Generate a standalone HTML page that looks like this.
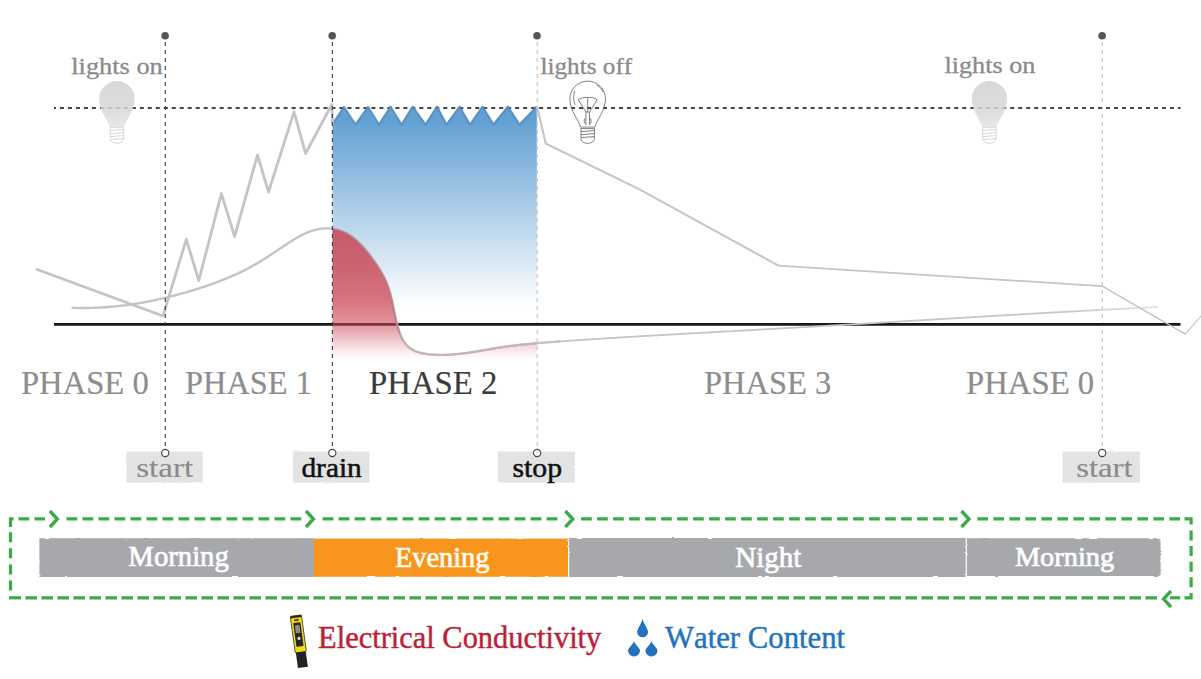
<!DOCTYPE html>
<html><head><meta charset="utf-8"><style>
html,body{margin:0;padding:0;background:#fff;}
svg{display:block;}
text{font-kerning:none;}
</style></head><body>
<svg width="1201" height="679" viewBox="0 0 1201 679">
<rect width="1201" height="679" fill="#fff"/>
<defs>
<linearGradient id="gBlue" gradientUnits="userSpaceOnUse" x1="0" y1="120" x2="0" y2="306">
 <stop offset="0" stop-color="#5f9ed2" stop-opacity="0.98"/>
 <stop offset="1" stop-color="#5f9ed2" stop-opacity="0"/>
</linearGradient>
<linearGradient id="gRed" gradientUnits="userSpaceOnUse" x1="0" y1="228" x2="0" y2="360">
 <stop offset="0" stop-color="#c85868" stop-opacity="1"/>
 <stop offset="0.129" stop-color="#c6606e" stop-opacity="1"/>
 <stop offset="0.545" stop-color="#cc4857" stop-opacity="0.76"/>
 <stop offset="0.636" stop-color="#cd4f5c" stop-opacity="0.70"/>
 <stop offset="0.727" stop-color="#cd4859" stop-opacity="0.584"/>
 <stop offset="0.818" stop-color="#cd4859" stop-opacity="0.37"/>
 <stop offset="0.886" stop-color="#cd4859" stop-opacity="0.22"/>
 <stop offset="0.924" stop-color="#cd4859" stop-opacity="0.137"/>
 <stop offset="0.970" stop-color="#cd4859" stop-opacity="0.04"/>
 <stop offset="1" stop-color="#cd4859" stop-opacity="0"/>
</linearGradient>
<linearGradient id="gBulb" x1="0" y1="0" x2="0" y2="1">
 <stop offset="0" stop-color="#d2d2d2"/>
 <stop offset="0.6" stop-color="#d6d6d6"/>
 <stop offset="1" stop-color="#e4e4e4"/>
</linearGradient>
<filter id="rough" x="-2%" y="-10%" width="104%" height="120%">
 <feTurbulence type="fractalNoise" baseFrequency="0.06 0.5" numOctaves="2" seed="3" result="n"/>
 <feDisplacementMap in="SourceGraphic" in2="n" scale="2.2" xChannelSelector="R" yChannelSelector="G"/>
</filter>
</defs>
<line x1="54" y1="108" x2="1180.5" y2="108" stroke="#444" stroke-width="2" stroke-dasharray="3.9925 3.9925" stroke-dashoffset="1.97"/>
<polygon points="332.5,124 344,106.8 355.5,124.5 368,106.8 379,124.5 390.5,106.5 401.5,124.5 412.7,106.5 425.5,124.5 437,106.5 446.5,124.5 459.5,106.5 470,124.5 482.5,106.5 493.5,124.5 508,106.5 519.5,124.5 536.8,106.5 537,326 332.5,326" fill="url(#gBlue)"/>
<polyline points="332.5,124 344,106.8 355.5,124.5 368,106.8 379,124.5 390.5,106.5 401.5,124.5 412.7,106.5 425.5,124.5 437,106.5 446.5,124.5 459.5,106.5 470,124.5 482.5,106.5 493.5,124.5 508,106.5 519.5,124.5 536.8,106.5" fill="none" stroke="#4f87bd" stroke-width="2" stroke-linejoin="round" opacity="0.85"/>
<line x1="537.2" y1="42" x2="537.2" y2="449" stroke="#c4c4c4" stroke-width="1.1" stroke-dasharray="4 4"/>
<line x1="1102.3" y1="42" x2="1102.3" y2="449" stroke="#c4c4c4" stroke-width="1.1" stroke-dasharray="4 4"/>
<line x1="54" y1="324.3" x2="1180.5" y2="324.3" stroke="#181818" stroke-width="2.8"/>
<polyline points="72.60,307.80 73.58,307.84 74.56,307.87 75.55,307.90 76.53,307.92 77.51,307.94 78.50,307.96 79.48,307.97 80.46,307.99 81.45,307.99 82.43,308.00 83.41,308.00 84.39,308.00 85.38,307.99 86.36,307.99 87.34,307.97 88.32,307.96 89.30,307.94 90.28,307.92 91.27,307.90 92.25,307.87 93.23,307.84 94.21,307.81 95.19,307.77 96.17,307.74 97.15,307.69 98.13,307.65 99.11,307.60 100.09,307.55 101.07,307.49 102.05,307.44 103.03,307.38 104.01,307.31 104.98,307.25 105.96,307.18 106.94,307.11 107.92,307.03 108.90,306.96 109.87,306.88 110.85,306.79 111.83,306.71 112.80,306.62 113.78,306.52 114.76,306.43 115.73,306.33 116.71,306.23 117.68,306.13 118.66,306.02 119.63,305.91 120.61,305.80 121.58,305.69 122.55,305.57 123.53,305.45 124.50,305.33 125.47,305.20 126.45,305.07 127.42,304.94 128.39,304.81 129.36,304.67 130.33,304.53 131.30,304.39 132.27,304.25 133.24,304.10 134.21,303.95 135.18,303.80 136.15,303.65 137.12,303.49 138.09,303.33 139.06,303.17 140.03,303.00 140.99,302.84 141.96,302.67 142.93,302.49 143.89,302.32 144.86,302.14 145.82,301.96 146.79,301.78 147.75,301.59 148.72,301.41 149.68,301.22 150.65,301.02 151.61,300.83 152.57,300.63 153.53,300.43 154.50,300.23 155.46,300.03 156.42,299.82 157.38,299.61 158.34,299.40 159.30,299.19 160.26,298.97 161.22,298.75 162.17,298.53 163.13,298.31 164.09,298.09 165.05,297.86 166.00,297.63 166.96,297.40 167.91,297.16 168.87,296.93 169.82,296.69 170.78,296.45 171.73,296.21 172.69,295.96 173.64,295.72 174.59,295.47 175.54,295.22 176.49,294.96 177.44,294.71 178.39,294.45 179.34,294.19 180.29,293.93 181.24,293.66 182.19,293.40 183.14,293.13 184.08,292.86 185.03,292.59 185.97,292.31 186.92,292.04 187.86,291.76 188.81,291.48 189.75,291.20 190.69,290.91 191.64,290.63 192.58,290.34 193.52,290.05 194.46,289.76 195.40,289.47 196.34,289.17 197.28,288.87 198.22,288.57 199.16,288.27 200.09,287.97 201.03,287.67 201.96,287.36 202.90,287.05 203.83,286.74 204.77,286.43 205.70,286.11 206.63,285.80 207.56,285.48 208.50,285.16 209.42,284.84 210.35,284.51 211.28,284.18 212.21,283.85 213.13,283.52 214.06,283.19 214.98,282.85 215.91,282.51 216.83,282.17 217.75,281.83 218.67,281.48 219.58,281.13 220.50,280.78 221.42,280.42 222.33,280.07 223.24,279.71 224.16,279.34 225.07,278.98 225.97,278.61 226.88,278.24 227.79,277.86 228.69,277.49 229.59,277.11 230.50,276.72 231.40,276.34 232.29,275.95 233.19,275.55 234.08,275.16 234.98,274.76 235.87,274.36 236.76,273.95 237.65,273.54 238.53,273.13 239.42,272.71 240.30,272.30 241.18,271.87 242.06,271.45 242.93,271.02 243.81,270.58 244.68,270.15 245.55,269.70 246.42,269.26 247.28,268.81 248.15,268.36 249.01,267.90 249.87,267.44 250.73,266.98 251.58,266.51 252.43,266.04 253.28,265.57 254.13,265.09 254.98,264.60 255.82,264.11 256.66,263.62 257.50,263.13 258.34,262.63 259.17,262.12 260.00,261.62 260.83,261.11 261.66,260.59 262.49,260.08 263.32,259.56 264.14,259.04 264.97,258.51 265.79,257.99 266.61,257.46 267.43,256.93 268.25,256.39 269.07,255.86 269.89,255.32 270.71,254.78 271.53,254.24 272.35,253.70 273.17,253.16 273.99,252.61 274.81,252.07 275.63,251.52 276.44,250.98 277.26,250.43 278.09,249.88 278.91,249.33 279.73,248.79 280.55,248.24 281.38,247.69 282.20,247.14 283.03,246.59 283.86,246.05 284.69,245.50 285.52,244.96 286.35,244.41 287.18,243.87 288.02,243.33 288.86,242.78 289.70,242.25 290.54,241.71 291.39,241.17 292.24,240.64 293.09,240.11 293.94,239.59 294.80,239.07 295.65,238.55 296.52,238.05 297.38,237.54 298.25,237.05 299.12,236.56 299.99,236.08 300.87,235.61 301.75,235.15 302.64,234.70 303.52,234.27 304.42,233.84 305.31,233.42 306.21,233.02 307.12,232.63 308.02,232.25 308.93,231.89 309.85,231.54 310.77,231.21 311.70,230.89 312.63,230.59 313.56,230.31 314.50,230.04 315.44,229.79 316.39,229.57 317.34,229.36 318.30,229.17 319.26,229.00 320.22,228.84 321.19,228.71 322.15,228.60 323.12,228.51 324.09,228.44 325.06,228.39 326.03,228.35 327.00,228.34 327.97,228.35 328.93,228.38 329.90,228.43 330.86,228.51 331.82,228.60 332.77,228.71 333.72,228.85 334.67,229.01 335.61,229.19 336.55,229.39 337.48,229.61 338.40,229.86 339.32,230.13 340.22,230.42 341.12,230.73 342.02,231.06 342.90,231.42 343.77,231.80 344.64,232.20 345.50,232.63 346.34,233.07 347.18,233.53 348.02,234.01 348.84,234.51 349.66,235.03 350.46,235.57 351.26,236.12 352.05,236.69 352.84,237.27 353.61,237.88 354.38,238.49 355.14,239.12 355.90,239.76 356.64,240.42 357.38,241.09 358.12,241.77 358.84,242.46 359.56,243.16 360.27,243.88 360.97,244.60 361.67,245.33 362.36,246.07 363.04,246.82 363.72,247.58 364.39,248.34 365.06,249.12 365.72,249.89 366.37,250.67 367.01,251.46 367.65,252.25 368.29,253.04 368.92,253.84 369.54,254.64 370.16,255.44 370.77,256.25 371.37,257.05 371.97,257.86 372.57,258.66 373.16,259.47 373.74,260.28 374.31,261.09 374.89,261.90 375.45,262.71 376.01,263.52 376.56,264.34 377.10,265.15 377.64,265.97 378.17,266.79 378.69,267.62 379.21,268.44 379.72,269.27 380.22,270.10 380.72,270.93 381.20,271.77 381.68,272.61 382.15,273.45 382.61,274.30 383.07,275.15 383.51,276.00 383.95,276.86 384.38,277.72 384.79,278.58 385.21,279.45 385.61,280.32 386.00,281.20 386.38,282.08 386.75,282.97 387.12,283.86 387.47,284.75 387.82,285.65 388.15,286.56 388.47,287.47 388.79,288.39 389.09,289.31 389.38,290.24 389.67,291.17 389.94,292.11 390.21,293.05 390.46,294.00 390.71,294.95 390.96,295.90 391.19,296.86 391.42,297.82 391.65,298.79 391.87,299.76 392.08,300.73 392.29,301.71 392.50,302.68 392.70,303.66 392.90,304.64 393.10,305.63 393.30,306.61 393.49,307.60 393.69,308.58 393.88,309.57 394.08,310.56 394.27,311.55 394.47,312.54 394.67,313.53 394.87,314.52 395.07,315.50 395.28,316.49 395.49,317.48 395.70,318.46 395.92,319.45 396.14,320.43 396.37,321.41 396.61,322.39 396.85,323.36 397.10,324.33 397.36,325.30 397.62,326.27 397.89,327.24 398.18,328.20 398.47,329.15 398.77,330.10 399.08,331.05 399.41,331.99 399.75,332.92 400.09,333.84 400.46,334.75 400.84,335.65 401.23,336.54 401.64,337.42 402.06,338.28 402.50,339.12 402.96,339.95 403.44,340.76 403.93,341.55 404.45,342.32 404.99,343.06 405.54,343.79 406.12,344.49 406.72,345.17 407.35,345.82 408.00,346.45 408.67,347.04 409.37,347.61 410.09,348.15 410.83,348.67 411.59,349.15 412.38,349.62 413.18,350.05 414.00,350.47 414.85,350.85 415.71,351.22 416.58,351.57 417.47,351.89 418.38,352.19 419.30,352.47 420.23,352.73 421.17,352.98 422.12,353.20 423.09,353.41 424.06,353.60 425.05,353.78 426.04,353.94 427.03,354.08 428.03,354.21 429.04,354.33 430.05,354.43 431.07,354.53 432.08,354.61 433.10,354.68 434.12,354.74 435.13,354.79 436.15,354.83 437.17,354.87 438.18,354.89 439.19,354.91 440.20,354.92 441.20,354.92 442.21,354.92 443.21,354.91 444.22,354.89 445.22,354.86 446.22,354.83 447.21,354.79 448.21,354.75 449.20,354.70 450.20,354.64 451.19,354.57 452.18,354.50 453.17,354.43 454.16,354.35 455.14,354.26 456.13,354.17 457.11,354.08 458.10,353.98 459.08,353.87 460.06,353.76 461.04,353.65 462.02,353.53 463.00,353.41 463.97,353.28 464.95,353.15 465.92,353.02 466.90,352.89 467.87,352.75 468.85,352.61 469.82,352.46 470.79,352.31 471.76,352.16 472.73,352.01 473.70,351.86 474.67,351.70 475.64,351.54 476.61,351.38 477.57,351.22 478.54,351.06 479.51,350.89 480.48,350.73 481.44,350.56 482.41,350.39 483.37,350.23 484.34,350.06 485.31,349.89 486.27,349.72 487.24,349.56 488.20,349.39 489.17,349.22 490.13,349.06 491.10,348.89 492.06,348.73 493.03,348.56 493.99,348.40 494.96,348.24 495.93,348.08 496.89,347.92 497.86,347.77 498.83,347.61 499.79,347.46 500.76,347.31 501.73,347.17 502.70,347.02 503.67,346.88 504.64,346.74 505.61,346.61 506.58,346.47 507.55,346.34 508.52,346.21 509.49,346.08 510.46,345.95 511.43,345.83 512.41,345.71 513.38,345.59 514.35,345.47 515.32,345.35 516.30,345.24 517.27,345.12 518.25,345.01 519.22,344.90 520.19,344.80 521.17,344.69 522.14,344.59 523.12,344.48 524.10,344.38 525.07,344.28 526.05,344.19 527.02,344.09 528.00,343.99 528.98,343.90 529.95,343.81 530.93,343.72 531.91,343.63 532.89,343.54 533.86,343.45 534.84,343.36 535.82,343.28 536.80,343.20 537.78,343.11 538.76,343.03 539.73,342.95 540.71,342.87 541.69,342.79 542.67,342.71 543.65,342.63 544.63,342.56 545.61,342.48 546.59,342.41 547.57,342.33 548.55,342.26 549.53,342.19 550.51,342.11 551.49,342.04 552.47,341.97 553.45,341.90 554.43,341.83 555.41,341.76 556.39,341.69 557.37,341.62 558.35,341.55 559.33,341.48" fill="none" stroke="#c4c4c4" stroke-width="2.4" stroke-linecap="round" stroke-linejoin="round"/>
<linearGradient id="gEcR" gradientUnits="userSpaceOnUse" x1="555" y1="0" x2="1158" y2="0"><stop offset="0" stop-color="#c4c4c4"/><stop offset="0.85" stop-color="#c8c8c8"/><stop offset="1" stop-color="#e4e4e4"/></linearGradient>
<polyline points="555.41,341.76 556.39,341.69 557.37,341.62 558.35,341.55 559.33,341.48 560.31,341.41 561.29,341.34 562.27,341.27 563.25,341.20 564.23,341.13 565.21,341.07 566.19,341.00 567.17,340.93 568.15,340.86 569.13,340.80 570.11,340.73 571.10,340.66 572.08,340.59 573.06,340.53 574.04,340.46 575.02,340.39 576.00,340.33 576.98,340.26 577.96,340.20 578.94,340.13 579.92,340.06 580.90,340.00 581.88,339.93 582.86,339.87 583.84,339.80 584.82,339.74 585.80,339.67 586.78,339.61 587.76,339.54 588.74,339.48 589.72,339.42 590.70,339.35 591.68,339.29 592.66,339.22 593.64,339.16 594.63,339.10 595.61,339.03 596.59,338.97 597.57,338.91 598.55,338.85 599.53,338.78 600.51,338.72 601.49,338.66 602.47,338.60 603.45,338.53 604.43,338.47 605.41,338.41 606.39,338.35 607.37,338.29 608.35,338.22 609.33,338.16 610.31,338.10 611.29,338.04 612.27,337.98 613.25,337.92 614.23,337.86 615.21,337.80 616.20,337.74 617.18,337.68 618.16,337.61 619.14,337.55 620.12,337.49 621.10,337.43 622.08,337.37 623.06,337.31 624.04,337.26 625.02,337.20 626.00,337.14 626.98,337.08 627.96,337.02 628.94,336.96 629.92,336.90 630.90,336.84 631.88,336.78 632.86,336.72 633.84,336.66 634.83,336.61 635.81,336.55 636.79,336.49 637.77,336.43 638.75,336.37 639.73,336.32 640.71,336.26 641.69,336.20 642.67,336.14 643.65,336.08 644.63,336.03 645.61,335.97 646.59,335.91 647.57,335.85 648.55,335.80 649.53,335.74 650.51,335.68 651.49,335.63 652.48,335.57 653.46,335.51 654.44,335.46 655.42,335.40 656.40,335.34 657.38,335.29 658.36,335.23 659.34,335.17 660.32,335.12 661.30,335.06 662.28,335.00 663.26,334.95 664.24,334.89 665.22,334.84 666.20,334.78 667.18,334.73 668.16,334.67 669.14,334.61 670.13,334.56 671.11,334.50 672.09,334.45 673.07,334.39 674.05,334.34 675.03,334.28 676.01,334.23 676.99,334.17 677.97,334.12 678.95,334.06 679.93,334.01 680.91,333.95 681.89,333.90 682.87,333.84 683.85,333.79 684.83,333.73 685.81,333.68 686.80,333.62 687.78,333.57 688.76,333.51 689.74,333.46 690.72,333.40 691.70,333.35 692.68,333.30 693.66,333.24 694.64,333.19 695.62,333.13 696.60,333.08 697.58,333.02 698.56,332.97 699.54,332.92 700.52,332.86 701.50,332.81 702.49,332.75 703.47,332.70 704.45,332.65 705.43,332.59 706.41,332.54 707.39,332.48 708.37,332.43 709.35,332.38 710.33,332.32 711.31,332.27 712.29,332.21 713.27,332.16 714.25,332.11 715.23,332.05 716.21,332.00 717.19,331.95 718.18,331.89 719.16,331.84 720.14,331.78 721.12,331.73 722.10,331.68 723.08,331.62 724.06,331.57 725.04,331.52 726.02,331.46 727.00,331.41 727.98,331.36 728.96,331.30 729.94,331.25 730.92,331.19 731.90,331.14 732.88,331.09 733.86,331.03 734.85,330.98 735.83,330.93 736.81,330.87 737.79,330.82 738.77,330.77 739.75,330.71 740.73,330.66 741.71,330.60 742.69,330.55 743.67,330.50 744.65,330.44 745.63,330.39 746.61,330.34 747.59,330.28 748.57,330.23 749.55,330.17 750.54,330.12 751.52,330.07 752.50,330.01 753.48,329.96 754.46,329.90 755.44,329.85 756.42,329.80 757.40,329.74 758.38,329.69 759.36,329.63 760.34,329.58 761.32,329.53 762.30,329.47 763.28,329.42 764.26,329.36 765.24,329.31 766.23,329.26 767.21,329.20 768.19,329.15 769.17,329.09 770.15,329.04 771.13,328.98 772.11,328.93 773.09,328.87 774.07,328.82 775.05,328.77 776.03,328.71 777.01,328.66 777.99,328.60 778.97,328.55 779.95,328.49 780.93,328.44 781.91,328.38 782.90,328.33 783.88,328.27 784.86,328.22 785.84,328.16 786.82,328.11 787.80,328.05 788.78,327.99 789.76,327.94 790.74,327.88 791.72,327.83 792.70,327.77 793.68,327.72 794.66,327.66 795.64,327.61 796.62,327.55 797.60,327.49 798.58,327.44 799.56,327.38 800.55,327.33 801.53,327.27 802.51,327.21 803.49,327.16 804.47,327.10 805.45,327.05 806.43,326.99 807.41,326.93 808.39,326.88 809.37,326.82 810.35,326.77 811.33,326.71 812.31,326.65 813.29,326.60 814.27,326.54 815.25,326.48 816.23,326.43 817.21,326.37 818.20,326.31 819.18,326.26 820.16,326.20 821.14,326.14 822.12,326.09 823.10,326.03 824.08,325.97 825.06,325.92 826.04,325.86 827.02,325.80 828.00,325.75 828.98,325.69 829.96,325.63 830.94,325.57 831.92,325.52 832.90,325.46 833.88,325.40 834.86,325.35 835.85,325.29 836.83,325.23 837.81,325.17 838.79,325.12 839.77,325.06 840.75,325.00 841.73,324.94 842.71,324.89 843.69,324.83 844.67,324.77 845.65,324.71 846.63,324.66 847.61,324.60 848.59,324.54 849.57,324.48 850.55,324.43 851.53,324.37 852.51,324.31 853.49,324.25 854.48,324.19 855.46,324.14 856.44,324.08 857.42,324.02 858.40,323.96 859.38,323.91 860.36,323.85 861.34,323.79 862.32,323.73 863.30,323.67 864.28,323.62 865.26,323.56 866.24,323.50 867.22,323.44 868.20,323.38 869.18,323.33 870.16,323.27 871.14,323.21 872.12,323.15 873.11,323.09 874.09,323.04 875.07,322.98 876.05,322.92 877.03,322.86 878.01,322.80 878.99,322.74 879.97,322.69 880.95,322.63 881.93,322.57 882.91,322.51 883.89,322.45 884.87,322.39 885.85,322.34 886.83,322.28 887.81,322.22 888.79,322.16 889.77,322.10 890.75,322.04 891.74,321.99 892.72,321.93 893.70,321.87 894.68,321.81 895.66,321.75 896.64,321.69 897.62,321.64 898.60,321.58 899.58,321.52 900.56,321.46 901.54,321.40 902.52,321.34 903.50,321.28 904.48,321.23 905.46,321.17 906.44,321.11 907.42,321.05 908.40,320.99 909.38,320.93 910.36,320.87 911.35,320.82 912.33,320.76 913.31,320.70 914.29,320.64 915.27,320.58 916.25,320.52 917.23,320.46 918.21,320.41 919.19,320.35 920.17,320.29 921.15,320.23 922.13,320.17 923.11,320.11 924.09,320.05 925.07,320.00 926.05,319.94 927.03,319.88 928.01,319.82 928.99,319.76 929.98,319.70 930.96,319.65 931.94,319.59 932.92,319.53 933.90,319.47 934.88,319.41 935.86,319.35 936.84,319.29 937.82,319.24 938.80,319.18 939.78,319.12 940.76,319.06 941.74,319.00 942.72,318.94 943.70,318.89 944.68,318.83 945.66,318.77 946.64,318.71 947.63,318.65 948.61,318.59 949.59,318.53 950.57,318.48 951.55,318.42 952.53,318.36 953.51,318.30 954.49,318.24 955.47,318.19 956.45,318.13 957.43,318.07 958.41,318.01 959.39,317.95 960.37,317.89 961.35,317.84 962.33,317.78 963.31,317.72 964.29,317.66 965.27,317.60 966.26,317.55 967.24,317.49 968.22,317.43 969.20,317.37 970.18,317.31 971.16,317.25 972.14,317.20 973.12,317.14 974.10,317.08 975.08,317.02 976.06,316.97 977.04,316.91 978.02,316.85 979.00,316.79 979.98,316.73 980.96,316.68 981.94,316.62 982.92,316.56 983.91,316.50 984.89,316.44 985.87,316.39 986.85,316.33 987.83,316.27 988.81,316.21 989.79,316.16 990.77,316.10 991.75,316.04 992.73,315.98 993.71,315.93 994.69,315.87 995.67,315.81 996.65,315.75 997.63,315.70 998.61,315.64 999.59,315.58 1000.58,315.53 1001.56,315.47 1002.54,315.41 1003.52,315.35 1004.50,315.30 1005.48,315.24 1006.46,315.18 1007.44,315.13 1008.42,315.07 1009.40,315.01 1010.38,314.95 1011.36,314.90 1012.34,314.84 1013.32,314.78 1014.30,314.73 1015.28,314.67 1016.26,314.61 1017.25,314.56 1018.23,314.50 1019.21,314.44 1020.19,314.39 1021.17,314.33 1022.15,314.27 1023.13,314.22 1024.11,314.16 1025.09,314.11 1026.07,314.05 1027.05,313.99 1028.03,313.94 1029.01,313.88 1029.99,313.82 1030.97,313.77 1031.95,313.71 1032.94,313.66 1033.92,313.60 1034.90,313.54 1035.88,313.49 1036.86,313.43 1037.84,313.38 1038.82,313.32 1039.80,313.26 1040.78,313.21 1041.76,313.15 1042.74,313.10 1043.72,313.04 1044.70,312.99 1045.68,312.93 1046.66,312.88 1047.64,312.82 1048.63,312.77 1049.61,312.71 1050.59,312.65 1051.57,312.60 1052.55,312.54 1053.53,312.49 1054.51,312.43 1055.49,312.38 1056.47,312.32 1057.45,312.27 1058.43,312.21 1059.41,312.16 1060.39,312.11 1061.37,312.05 1062.35,312.00 1063.34,311.94 1064.32,311.89 1065.30,311.83 1066.28,311.78 1067.26,311.72 1068.24,311.67 1069.22,311.62 1070.20,311.56 1071.18,311.51 1072.16,311.45 1073.14,311.40 1074.12,311.35 1075.10,311.29 1076.08,311.24 1077.06,311.18 1078.05,311.13 1079.03,311.08 1080.01,311.02 1080.99,310.97 1081.97,310.92 1082.95,310.86 1083.93,310.81 1084.91,310.76 1085.89,310.70 1086.87,310.65 1087.85,310.60 1088.83,310.54 1089.81,310.49 1090.79,310.44 1091.78,310.39 1092.76,310.33 1093.74,310.28 1094.72,310.23 1095.70,310.17 1096.68,310.12 1097.66,310.07 1098.64,310.02 1099.62,309.97 1100.60,309.91 1101.58,309.86 1102.56,309.81 1103.54,309.76 1104.53,309.70 1105.51,309.65 1106.49,309.60 1107.47,309.55 1108.45,309.50 1109.43,309.45 1110.41,309.39 1111.39,309.34 1112.37,309.29 1113.35,309.24 1114.33,309.19 1115.31,309.14 1116.29,309.09 1117.28,309.04 1118.26,308.98 1119.24,308.93 1120.22,308.88 1121.20,308.83 1122.18,308.78 1123.16,308.73 1124.14,308.68 1125.12,308.63 1126.10,308.58 1127.08,308.53 1128.06,308.48 1129.05,308.43 1130.03,308.38 1131.01,308.33 1131.99,308.28 1132.97,308.23 1133.95,308.18 1134.93,308.13 1135.91,308.08 1136.89,308.03 1137.87,307.98 1138.85,307.93 1139.83,307.88 1140.81,307.84 1141.80,307.79 1142.78,307.74 1143.76,307.69 1144.74,307.64 1145.72,307.59 1146.70,307.54 1147.68,307.49 1148.66,307.45 1149.64,307.40 1150.62,307.35 1151.60,307.30 1152.59,307.25 1153.57,307.20 1154.55,307.16 1155.53,307.11 1156.51,307.06 1157.49,307.01" fill="none" stroke="url(#gEcR)" stroke-width="1.8" stroke-linecap="round" stroke-linejoin="round"/>
<polygon points="332.4,228.71 332.77,228.71 333.72,228.85 334.67,229.01 335.61,229.19 336.55,229.39 337.48,229.61 338.40,229.86 339.32,230.13 340.22,230.42 341.12,230.73 342.02,231.06 342.90,231.42 343.77,231.80 344.64,232.20 345.50,232.63 346.34,233.07 347.18,233.53 348.02,234.01 348.84,234.51 349.66,235.03 350.46,235.57 351.26,236.12 352.05,236.69 352.84,237.27 353.61,237.88 354.38,238.49 355.14,239.12 355.90,239.76 356.64,240.42 357.38,241.09 358.12,241.77 358.84,242.46 359.56,243.16 360.27,243.88 360.97,244.60 361.67,245.33 362.36,246.07 363.04,246.82 363.72,247.58 364.39,248.34 365.06,249.12 365.72,249.89 366.37,250.67 367.01,251.46 367.65,252.25 368.29,253.04 368.92,253.84 369.54,254.64 370.16,255.44 370.77,256.25 371.37,257.05 371.97,257.86 372.57,258.66 373.16,259.47 373.74,260.28 374.31,261.09 374.89,261.90 375.45,262.71 376.01,263.52 376.56,264.34 377.10,265.15 377.64,265.97 378.17,266.79 378.69,267.62 379.21,268.44 379.72,269.27 380.22,270.10 380.72,270.93 381.20,271.77 381.68,272.61 382.15,273.45 382.61,274.30 383.07,275.15 383.51,276.00 383.95,276.86 384.38,277.72 384.79,278.58 385.21,279.45 385.61,280.32 386.00,281.20 386.38,282.08 386.75,282.97 387.12,283.86 387.47,284.75 387.82,285.65 388.15,286.56 388.47,287.47 388.79,288.39 389.09,289.31 389.38,290.24 389.67,291.17 389.94,292.11 390.21,293.05 390.46,294.00 390.71,294.95 390.96,295.90 391.19,296.86 391.42,297.82 391.65,298.79 391.87,299.76 392.08,300.73 392.29,301.71 392.50,302.68 392.70,303.66 392.90,304.64 393.10,305.63 393.30,306.61 393.49,307.60 393.69,308.58 393.88,309.57 394.08,310.56 394.27,311.55 394.47,312.54 394.67,313.53 394.87,314.52 395.07,315.50 395.28,316.49 395.49,317.48 395.70,318.46 395.92,319.45 396.14,320.43 396.37,321.41 396.61,322.39 396.85,323.36 397.10,324.33 397.36,325.30 397.62,326.27 397.89,327.24 398.18,328.20 398.47,329.15 398.77,330.10 399.08,331.05 399.41,331.99 399.75,332.92 400.09,333.84 400.46,334.75 400.84,335.65 401.23,336.54 401.64,337.42 402.06,338.28 402.50,339.12 402.96,339.95 403.44,340.76 403.93,341.55 404.45,342.32 404.99,343.06 405.54,343.79 406.12,344.49 406.72,345.17 407.35,345.82 408.00,346.45 408.67,347.04 409.37,347.61 410.09,348.15 410.83,348.67 411.59,349.15 412.38,349.62 413.18,350.05 414.00,350.47 414.85,350.85 415.71,351.22 416.58,351.57 417.47,351.89 418.38,352.19 419.30,352.47 420.23,352.73 421.17,352.98 422.12,353.20 423.09,353.41 424.06,353.60 425.05,353.78 426.04,353.94 427.03,354.08 428.03,354.21 429.04,354.33 430.05,354.43 431.07,354.53 432.08,354.61 433.10,354.68 434.12,354.74 435.13,354.79 436.15,354.83 437.17,354.87 438.18,354.89 439.19,354.91 440.20,354.92 441.20,354.92 442.21,354.92 443.21,354.91 444.22,354.89 445.22,354.86 446.22,354.83 447.21,354.79 448.21,354.75 449.20,354.70 450.20,354.64 451.19,354.57 452.18,354.50 453.17,354.43 454.16,354.35 455.14,354.26 456.13,354.17 457.11,354.08 458.10,353.98 459.08,353.87 460.06,353.76 461.04,353.65 462.02,353.53 463.00,353.41 463.97,353.28 464.95,353.15 465.92,353.02 466.90,352.89 467.87,352.75 468.85,352.61 469.82,352.46 470.79,352.31 471.76,352.16 472.73,352.01 473.70,351.86 474.67,351.70 475.64,351.54 476.61,351.38 477.57,351.22 478.54,351.06 479.51,350.89 480.48,350.73 481.44,350.56 482.41,350.39 483.37,350.23 484.34,350.06 485.31,349.89 486.27,349.72 487.24,349.56 488.20,349.39 489.17,349.22 490.13,349.06 491.10,348.89 492.06,348.73 493.03,348.56 493.99,348.40 494.96,348.24 495.93,348.08 496.89,347.92 497.86,347.77 498.83,347.61 499.79,347.46 500.76,347.31 501.73,347.17 502.70,347.02 503.67,346.88 504.64,346.74 505.61,346.61 506.58,346.47 507.55,346.34 508.52,346.21 509.49,346.08 510.46,345.95 511.43,345.83 512.41,345.71 513.38,345.59 514.35,345.47 515.32,345.35 516.30,345.24 517.27,345.12 518.25,345.01 519.22,344.90 520.19,344.80 521.17,344.69 522.14,344.59 523.12,344.48 524.10,344.38 525.07,344.28 526.05,344.19 527.02,344.09 528.00,343.99 528.98,343.90 529.95,343.81 530.93,343.72 531.91,343.63 532.89,343.54 533.86,343.45 534.84,343.36 535.82,343.28 536.80,343.20 537.3,362 332.4,362" fill="url(#gRed)"/>
<polyline points="332.77,228.71 333.72,228.85 334.67,229.01 335.61,229.19 336.55,229.39 337.48,229.61 338.40,229.86 339.32,230.13 340.22,230.42 341.12,230.73 342.02,231.06 342.90,231.42 343.77,231.80 344.64,232.20 345.50,232.63 346.34,233.07 347.18,233.53 348.02,234.01 348.84,234.51 349.66,235.03 350.46,235.57 351.26,236.12 352.05,236.69 352.84,237.27 353.61,237.88 354.38,238.49 355.14,239.12 355.90,239.76 356.64,240.42 357.38,241.09 358.12,241.77 358.84,242.46 359.56,243.16 360.27,243.88 360.97,244.60 361.67,245.33 362.36,246.07 363.04,246.82 363.72,247.58 364.39,248.34 365.06,249.12 365.72,249.89 366.37,250.67 367.01,251.46 367.65,252.25 368.29,253.04 368.92,253.84 369.54,254.64 370.16,255.44 370.77,256.25 371.37,257.05 371.97,257.86 372.57,258.66 373.16,259.47 373.74,260.28 374.31,261.09 374.89,261.90 375.45,262.71 376.01,263.52 376.56,264.34 377.10,265.15 377.64,265.97 378.17,266.79 378.69,267.62 379.21,268.44 379.72,269.27 380.22,270.10 380.72,270.93 381.20,271.77 381.68,272.61 382.15,273.45 382.61,274.30 383.07,275.15 383.51,276.00 383.95,276.86 384.38,277.72 384.79,278.58 385.21,279.45 385.61,280.32 386.00,281.20 386.38,282.08 386.75,282.97 387.12,283.86 387.47,284.75 387.82,285.65 388.15,286.56 388.47,287.47 388.79,288.39 389.09,289.31 389.38,290.24 389.67,291.17 389.94,292.11 390.21,293.05 390.46,294.00 390.71,294.95 390.96,295.90 391.19,296.86 391.42,297.82 391.65,298.79 391.87,299.76 392.08,300.73 392.29,301.71 392.50,302.68 392.70,303.66 392.90,304.64 393.10,305.63 393.30,306.61 393.49,307.60 393.69,308.58 393.88,309.57 394.08,310.56 394.27,311.55 394.47,312.54 394.67,313.53 394.87,314.52 395.07,315.50 395.28,316.49 395.49,317.48 395.70,318.46 395.92,319.45 396.14,320.43 396.37,321.41 396.61,322.39 396.85,323.36 397.10,324.33 397.36,325.30 397.62,326.27 397.89,327.24 398.18,328.20 398.47,329.15 398.77,330.10 399.08,331.05 399.41,331.99 399.75,332.92 400.09,333.84 400.46,334.75 400.84,335.65 401.23,336.54 401.64,337.42 402.06,338.28 402.50,339.12 402.96,339.95" fill="none" stroke="#b98590" stroke-width="1.6" opacity="0.85" stroke-linejoin="round"/>
<polyline points="400.09,333.84 400.46,334.75 400.84,335.65 401.23,336.54 401.64,337.42 402.06,338.28 402.50,339.12 402.96,339.95 403.44,340.76 403.93,341.55 404.45,342.32 404.99,343.06 405.54,343.79 406.12,344.49 406.72,345.17 407.35,345.82 408.00,346.45 408.67,347.04 409.37,347.61 410.09,348.15 410.83,348.67 411.59,349.15 412.38,349.62 413.18,350.05 414.00,350.47 414.85,350.85 415.71,351.22 416.58,351.57 417.47,351.89 418.38,352.19 419.30,352.47 420.23,352.73 421.17,352.98 422.12,353.20 423.09,353.41 424.06,353.60 425.05,353.78 426.04,353.94 427.03,354.08 428.03,354.21 429.04,354.33 430.05,354.43 431.07,354.53 432.08,354.61 433.10,354.68 434.12,354.74 435.13,354.79 436.15,354.83 437.17,354.87 438.18,354.89 439.19,354.91 440.20,354.92 441.20,354.92 442.21,354.92 443.21,354.91 444.22,354.89 445.22,354.86 446.22,354.83 447.21,354.79 448.21,354.75 449.20,354.70 450.20,354.64 451.19,354.57 452.18,354.50 453.17,354.43 454.16,354.35 455.14,354.26 456.13,354.17 457.11,354.08 458.10,353.98 459.08,353.87 460.06,353.76 461.04,353.65 462.02,353.53 463.00,353.41 463.97,353.28 464.95,353.15 465.92,353.02 466.90,352.89 467.87,352.75 468.85,352.61 469.82,352.46 470.79,352.31 471.76,352.16 472.73,352.01 473.70,351.86 474.67,351.70 475.64,351.54 476.61,351.38 477.57,351.22 478.54,351.06 479.51,350.89 480.48,350.73 481.44,350.56 482.41,350.39 483.37,350.23 484.34,350.06 485.31,349.89 486.27,349.72 487.24,349.56 488.20,349.39 489.17,349.22 490.13,349.06 491.10,348.89 492.06,348.73 493.03,348.56 493.99,348.40 494.96,348.24 495.93,348.08 496.89,347.92 497.86,347.77 498.83,347.61 499.79,347.46 500.76,347.31 501.73,347.17 502.70,347.02 503.67,346.88 504.64,346.74 505.61,346.61 506.58,346.47 507.55,346.34 508.52,346.21 509.49,346.08 510.46,345.95 511.43,345.83 512.41,345.71 513.38,345.59 514.35,345.47 515.32,345.35 516.30,345.24 517.27,345.12 518.25,345.01 519.22,344.90 520.19,344.80 521.17,344.69 522.14,344.59 523.12,344.48 524.10,344.38 525.07,344.28 526.05,344.19 527.02,344.09 528.00,343.99 528.98,343.90 529.95,343.81 530.93,343.72 531.91,343.63 532.89,343.54 533.86,343.45 534.84,343.36 535.82,343.28 536.80,343.20" fill="none" stroke="#c3b4b7" stroke-width="2" opacity="0.9" stroke-linejoin="round"/>
<polyline points="36,269 163,316 186.3,239.5 198.8,280.5 221.4,193.6 234.6,236.5 257.5,155 268.5,192 294,111.8 305.6,153.5 331.8,104.5 332.6,124" fill="none" stroke="#c4c4c4" stroke-width="2.8" stroke-linejoin="round"/>
<polyline points="537,106 545.7,143.5 640,189.6 778.4,265.6" fill="none" stroke="#c6c6c6" stroke-width="2.1" stroke-linejoin="round"/>
<polyline points="778.4,265.6 1102.2,286.2" fill="none" stroke="#c6c6c6" stroke-width="1.7" stroke-linecap="round"/>
<polyline points="1102.2,286.2 1185.2,334.2" fill="none" stroke="#c4c4c4" stroke-width="1.5" stroke-linecap="round"/>
<line x1="1185.2" y1="334.2" x2="1201" y2="316" stroke="#cfcfcf" stroke-width="1.3"/>
<line x1="165.3" y1="42" x2="165.3" y2="449" stroke="#3a3a3a" stroke-width="1.1" stroke-dasharray="4 4"/>
<circle cx="165.10000000000002" cy="35.8" r="3.8" fill="#555"/>
<line x1="332.4" y1="42" x2="332.4" y2="449" stroke="#3a3a3a" stroke-width="1.1" stroke-dasharray="4 4"/>
<circle cx="332.2" cy="35.8" r="3.8" fill="#555"/>
<circle cx="537.0" cy="35.8" r="3.8" fill="#555"/>
<circle cx="1102.1" cy="35.8" r="3.8" fill="#555"/>
<g transform="translate(116.9,81.1)">
<path d="M-7.3,46 C-8,40 -17.8,30 -17.8,17.8 A17.8,17.8 0 0 1 17.8,17.8 C17.8,30 8,40 7.3,46 Z" fill="url(#gBulb)" opacity="0.85"/>
<path d="M-7,46.5 L7,46.5 L6.6,58.5 C5,63.5 -5,63.5 -6.6,58.5 Z" fill="#fff" stroke="#d4d4d4" stroke-width="0.9"/>
<path d="M-6.5,49.5 L6.5,48.5 M-6.5,52.5 L6.5,51.5 M-6.5,55.5 L6.5,54.5 M-6,58.5 L6,57.5" stroke="#d0d0d0" stroke-width="0.9"/>
</g>
<g transform="translate(587.7,81.1)" fill="none" stroke="#707070" stroke-width="0.9">
<path d="M-7.3,46 C-8,40 -17.8,30 -17.8,17.8 A17.8,17.8 0 0 1 17.8,17.8 C17.8,30 8,40 7.3,46"/>
<path d="M-7.3,46 L7.3,46"/>
<path d="M-6.8,47.5 L6.8,47.5 L6.6,58.5 C5,63.5 -5,63.5 -6.6,58.5 Z" fill="#fff"/>
<path d="M-6.5,50.5 L6.5,49.5 M-6.5,53.5 L6.5,52.5 M-6.5,56.5 L6.5,55.5"/>
<path d="M-9.5,18.5 C-5,15.5 5,15.5 9.5,18.5 M-9.5,18.5 L-1.8,31 L-1.8,44 M9.5,18.5 L1.8,31 L1.8,44 M-1.8,31 L1.8,31 M0,17 L0,31 M-2.5,37 C-4,39 -4,42 -1.8,43 M2.5,37 C4,39 4,42 1.8,43"/>
<path d="M-13,10 C-14.5,14 -14.5,19 -12.5,24"/>
<path d="M9,4 C12,5.5 14,8 15.5,11"/>
</g>
<g transform="translate(989.4,81.1)">
<path d="M-7.3,46 C-8,40 -17.8,30 -17.8,17.8 A17.8,17.8 0 0 1 17.8,17.8 C17.8,30 8,40 7.3,46 Z" fill="url(#gBulb)" opacity="0.85"/>
<path d="M-7,46.5 L7,46.5 L6.6,58.5 C5,63.5 -5,63.5 -6.6,58.5 Z" fill="#fff" stroke="#d4d4d4" stroke-width="0.9"/>
<path d="M-6.5,49.5 L6.5,48.5 M-6.5,52.5 L6.5,51.5 M-6.5,55.5 L6.5,54.5 M-6,58.5 L6,57.5" stroke="#d0d0d0" stroke-width="0.9"/>
</g>
<text transform="translate(71.27,73.60) scale(1.1288,1)" font-family='"Liberation Serif", serif' font-weight="normal" font-size="23.35" fill="#8a8a8a" stroke="#8a8a8a" stroke-width="0.3" stroke-linejoin="round" >lights on</text>
<text transform="translate(540.50,73.60) scale(1.0954,1)" font-family='"Liberation Serif", serif' font-weight="normal" font-size="23.01" fill="#8a8a8a" stroke="#8a8a8a" stroke-width="0.3" stroke-linejoin="round" >lights off</text>
<text transform="translate(944.48,73.30) scale(1.1214,1)" font-family='"Liberation Serif", serif' font-weight="normal" font-size="23.35" fill="#8a8a8a" stroke="#8a8a8a" stroke-width="0.3" stroke-linejoin="round" >lights on</text>
<text transform="translate(20.96,393.75) scale(0.9820,1)" font-family='"Liberation Serif", serif' font-weight="normal" font-size="33.22" fill="#8d8d8d" stroke="#8d8d8d" stroke-width="0.2" stroke-linejoin="round" >PHASE 0</text>
<text transform="translate(185.07,393.75) scale(0.9750,1)" font-family='"Liberation Serif", serif' font-weight="normal" font-size="33.22" fill="#8d8d8d" stroke="#8d8d8d" stroke-width="0.2" stroke-linejoin="round" >PHASE 1</text>
<text transform="translate(369.06,393.75) scale(0.9864,1)" font-family='"Liberation Serif", serif' font-weight="normal" font-size="33.22" fill="#3b3b3b" stroke="#3b3b3b" stroke-width="0.2" stroke-linejoin="round" >PHASE 2</text>
<text transform="translate(704.06,393.75) scale(0.9775,1)" font-family='"Liberation Serif", serif' font-weight="normal" font-size="33.22" fill="#8d8d8d" stroke="#8d8d8d" stroke-width="0.2" stroke-linejoin="round" >PHASE 3</text>
<text transform="translate(965.96,393.75) scale(0.9859,1)" font-family='"Liberation Serif", serif' font-weight="normal" font-size="33.22" fill="#8d8d8d" stroke="#8d8d8d" stroke-width="0.2" stroke-linejoin="round" >PHASE 0</text>
<rect x="126.5" y="451.5" width="76.1" height="31" fill="#e3e3e4" filter="url(#rough)"/>
<text transform="translate(136.14,476.50) scale(1.1976,1)" font-family='"Liberation Serif", serif' font-weight="normal" font-size="27.67" fill="#8a8a8a" stroke="#8a8a8a" stroke-width="0.1" stroke-linejoin="round" >start</text>
<circle cx="165.20000000000002" cy="453" r="3.6" fill="#fff" stroke="#444" stroke-width="1.1"/>
<rect x="292.9" y="451.5" width="76.6" height="31" fill="#e3e3e4" filter="url(#rough)"/>
<text transform="translate(301.44,476.50) scale(1.0607,1)" font-family='"Liberation Serif", serif' font-weight="normal" font-size="27.67" fill="#111" stroke="#111" stroke-width="0.5" stroke-linejoin="round" >drain</text>
<circle cx="332.29999999999995" cy="453" r="3.6" fill="#fff" stroke="#444" stroke-width="1.1"/>
<rect x="497.9" y="451.5" width="77.1" height="31" fill="#e3e3e4" filter="url(#rough)"/>
<text transform="translate(512.48,476.50) scale(1.0772,1)" font-family='"Liberation Serif", serif' font-weight="normal" font-size="27.67" fill="#111" stroke="#111" stroke-width="0.5" stroke-linejoin="round" >stop</text>
<circle cx="537.1" cy="453" r="3.6" fill="#fff" stroke="#444" stroke-width="1.1"/>
<rect x="1062.5" y="451.5" width="77.5" height="31" fill="#e3e3e4" filter="url(#rough)"/>
<text transform="translate(1076.15,476.50) scale(1.1868,1)" font-family='"Liberation Serif", serif' font-weight="normal" font-size="27.67" fill="#8a8a8a" stroke="#8a8a8a" stroke-width="0.1" stroke-linejoin="round" >start</text>
<circle cx="1102.2" cy="453" r="3.6" fill="#fff" stroke="#444" stroke-width="1.1"/>
<g stroke="#3aab49" stroke-width="3.2" fill="none">
<line x1="18.5" y1="518.9" x2="45" y2="518.9" stroke-dasharray="10.8 5.2"/>
<line x1="66.5" y1="518.9" x2="301.5" y2="518.9" stroke-dasharray="10.8 5.2"/>
<line x1="322.6" y1="518.9" x2="557.5" y2="518.9" stroke-dasharray="10.8 5.2"/>
<line x1="581" y1="518.9" x2="957.5" y2="518.9" stroke-dasharray="10.8 5.2"/>
<line x1="977.3" y1="518.9" x2="1180.5" y2="518.9" stroke-dasharray="10.8 5.2"/>
<path d="M10.5,527 L10.5,518.9 L13.5,518.9"/>
<path d="M1184.5,518.9 L1191.1,518.9 L1191.1,524.5"/>
<line x1="9" y1="597.8" x2="21" y2="597.8"/>
<path d="M1184.5,597.8 L1191.1,597.8 L1191.1,593"/>
<line x1="10.5" y1="532.2" x2="10.5" y2="590.8" stroke-dasharray="10 6.1"/>
<line x1="1191.1" y1="530.5" x2="1191.1" y2="589" stroke-dasharray="10 5.6"/>
<line x1="25.4" y1="597.8" x2="1157" y2="597.8" stroke-dasharray="11.6 4.4"/>
<line x1="1170" y1="597.8" x2="1180.2" y2="597.8"/>
<path d="M49.9,511 L57.4,519 L49.9,527" stroke-width="3.3" stroke-linejoin="miter"/>
<path d="M306.0,511 L313.5,519 L306.0,527" stroke-width="3.3" stroke-linejoin="miter"/>
<path d="M565.3,511 L572.8,519 L565.3,527" stroke-width="3.3" stroke-linejoin="miter"/>
<path d="M961.5,511 L969.0,519 L961.5,527" stroke-width="3.3" stroke-linejoin="miter"/>
<path d="M1171,591 L1163.5,599 L1171,607" stroke-width="3.3" stroke-linejoin="miter"/>
</g>
<g filter="url(#rough)">
<rect x="39.4" y="538.2" width="274.6" height="38.8" fill="#a7a8ab"/>
<rect x="314" y="538.6" width="254" height="38.2" fill="#f7951e"/>
<rect x="569.2" y="538" width="396.5" height="39" fill="#a7a8ab"/>
<rect x="966.9" y="538.2" width="193.7" height="37.8" fill="#a7a8ab"/>
</g>
<text transform="translate(128.37,566.10) scale(1.0106,1)" font-family='"Liberation Serif", serif' font-weight="normal" font-size="28.41" fill="#fff" stroke="#fff" stroke-width="0.7" stroke-linejoin="round" >Morning</text>
<text transform="translate(394.88,566.70) scale(0.9946,1)" font-family='"Liberation Serif", serif' font-weight="normal" font-size="28.56" fill="#fffaf0" stroke="#fffaf0" stroke-width="0.7" stroke-linejoin="round" >Evening</text>
<text transform="translate(735.37,566.60) scale(0.9934,1)" font-family='"Liberation Serif", serif' font-weight="normal" font-size="29.17" fill="#fff" stroke="#fff" stroke-width="0.7" stroke-linejoin="round" >Night</text>
<text transform="translate(1014.88,566.00) scale(1.0037,1)" font-family='"Liberation Serif", serif' font-weight="normal" font-size="28.25" fill="#fff" stroke="#fff" stroke-width="0.7" stroke-linejoin="round" >Morning</text>
<text transform="translate(318.12,648.30) scale(0.9583,1)" font-family='"Liberation Serif", serif' font-weight="normal" font-size="31.77" fill="#bd1f37" stroke="#bd1f37" stroke-width="0.45" stroke-linejoin="round" >Electrical Conductivity</text>
<text transform="translate(664.97,648.00) scale(0.9873,1)" font-family='"Liberation Serif", serif' font-weight="normal" font-size="31.16" fill="#2372bd" stroke="#2372bd" stroke-width="0.45" stroke-linejoin="round" >Water Content</text>
<g transform="translate(299.35,641.45) rotate(-7.8)">
<rect x="-5.6" y="-26" width="11.2" height="37" rx="1.2" fill="#f0dc14" stroke="#3a3a20" stroke-width="0.8"/>
<rect x="-5.6" y="-26.2" width="11.2" height="2.2" fill="#2a2a2a"/>
<rect x="-2.2" y="-22.5" width="4.4" height="1.8" fill="#8a2a2a"/>
<rect x="-3.6" y="-19" width="7.2" height="24" rx="1" fill="#262626"/>
<rect x="-2.3" y="-16.5" width="4.6" height="8" fill="#8e8e8e"/>
<circle cx="0" cy="-3" r="1.6" fill="#ddd"/>
<rect x="-5" y="10.5" width="10" height="15.7" fill="#222"/>
</g>
<path d="M642.6,619 C643.6,623 648.1,629.5999999999999 648.1,631.8 A5.5,5.5 0 0 1 637.1,631.8 C637.1,629.5999999999999 641.6,623 642.6,619 Z" fill="#2372bd"/>
<path d="M634,641 C635,645 640.0,648.0 640.0,650.4 A6.0,6.0 0 0 1 628.0,650.4 C628.0,648.0 633,645 634,641 Z" fill="#2372bd"/>
<path d="M651.5,641 C652.5,645 657.5,648.0 657.5,650.4 A6.0,6.0 0 0 1 645.5,650.4 C645.5,648.0 650.5,645 651.5,641 Z" fill="#2372bd"/>
</svg>
</body></html>
